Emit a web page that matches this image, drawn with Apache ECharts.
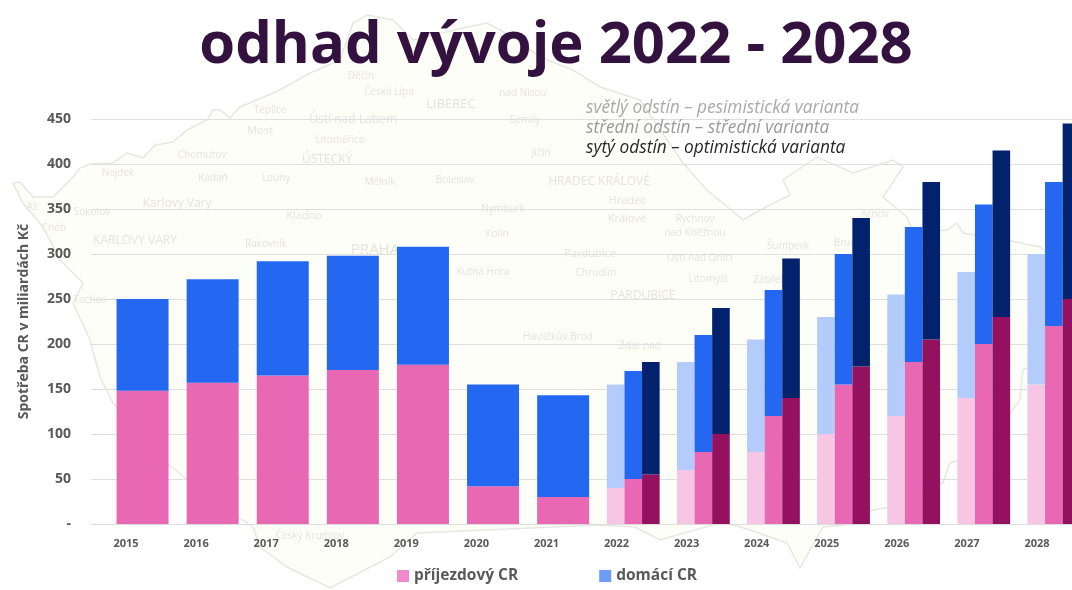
<!DOCTYPE html>
<html>
<head>
<meta charset="utf-8">
<title>odhad vývoje 2022 - 2028</title>
<script src="https://cdn.jsdelivr.net/npm/echarts@6/dist/echarts.min.js"></script>
<style>
  html, body { margin: 0; padding: 0; background: #fff; }
  #chart { width: 1072px; height: 590px; }
</style>
</head>
<body>
<div id="chart"></div>
<script>
const years = ['2015', '2016', '2017', '2018', '2019', '2020', '2021', '2022', '2023', '2024', '2025', '2026', '2027', '2028'];

// 2015-2021 actuals
const inboundActual = [148, 157, 165, 171, 177, 42, 30, null, null, null, null, null, null, null];
const domesticActual = [102, 115, 127, 127, 131, 113, 113, null, null, null, null, null, null, null];

// 2022-2028 scenarios
const inboundLow = [null, null, null, null, null, null, null, 40, 60, 80, 100, 120, 140, 155];
const domesticLow = [null, null, null, null, null, null, null, 115, 120, 125, 130, 135, 140, 145];
const inboundMid = [null, null, null, null, null, null, null, 50, 80, 120, 155, 180, 200, 220];
const domesticMid = [null, null, null, null, null, null, null, 120, 130, 140, 145, 150, 155, 160];
const inboundHigh = [null, null, null, null, null, null, null, 55, 100, 140, 175, 205, 230, 250];
const domesticHigh = [null, null, null, null, null, null, null, 125, 140, 155, 165, 175, 185, 195];

// backdrop: faded map of the country behind the plot
const mapOutline = [
  [13, 183], [20, 182], [33, 197], [53, 197], [73, 177], [80, 168], [90, 164], [113, 163], [127, 153], [143, 158],
  [155, 145], [173, 142], [187, 130], [207, 120], [213, 110], [220, 110], [230, 118], [240, 107], [280, 90], [310, 73],
  [340, 60], [353, 23], [367, 15], [393, 20], [413, 40], [467, 27], [487, 23], [513, 37], [540, 57], [573, 70],
  [600, 87], [640, 100], [683, 163], [707, 190], [743, 220], [760, 210], [790, 195], [783, 180], [817, 157], [853, 173],
  [893, 160], [903, 167], [883, 197], [907, 217], [913, 233], [947, 230], [957, 223], [963, 233], [1007, 240], [1040, 247],
  [1072, 270], [1072, 345], [1023, 370], [1020, 400], [990, 440], [967, 457], [950, 463], [943, 483], [905, 505], [873, 510],
  [845, 525], [823, 527], [800, 568], [787, 543], [750, 530], [723, 522], [660, 540], [635, 527], [600, 525], [417, 533],
  [390, 557], [330, 588], [287, 567], [260, 547], [253, 527], [217, 503], [150, 450], [113, 403], [100, 377], [90, 340],
  [73, 303], [83, 283], [60, 260], [43, 227], [23, 203]
];
const mapLabels = [
  ['Děčín', 361, 76, 10], ['Česká Lípa', 389, 92, 10], ['LIBEREC', 451, 104, 13], ['nad Nisou', 523, 93, 10], ['Semily', 525, 120, 10],
  ['Teplice', 270, 110, 10], ['Ústí nad Labem', 353, 120, 12], ['Most', 260, 131, 11], ['Litoměřice', 340, 140, 10], ['Chomutov', 202, 155, 10],
  ['ÚSTECKÝ', 327, 160, 12], ['Mělník', 380, 182, 10], ['Boleslav', 455, 180, 10], ['Jičín', 541, 153, 10], ['Kadaň', 213, 178, 10],
  ['Louny', 276, 178, 10], ['Nejdek', 118, 173, 10], ['Karlovy Vary', 177, 204, 12], ['KARLOVY VARY', 135, 241, 12], ['Sokolov', 92, 212, 10],
  ['Cheb', 54, 228, 10], ['Aš', 32, 207, 10], ['Rakovník', 266, 244, 10], ['Kladno', 304, 216, 11], ['PRAHA', 375, 250, 15],
  ['HRADEC KRÁLOVÉ', 599, 182, 12], ['Hradec', 627, 201, 11], ['Králové', 627, 219, 11], ['Nymburk', 503, 209, 10], ['Kolín', 497, 234, 10],
  ['Kutná Hora', 483, 272, 10], ['Pardubice', 590, 254, 11], ['Chrudim', 596, 273, 10], ['PARDUBICE', 643, 296, 12], ['Havlíčkův Brod', 558, 337, 10],
  ['Žďár nad', 640, 346, 10], ['Rychnov', 695, 219, 10], ['nad Kněžnou', 695, 233, 10], ['Šumperk', 788, 246, 10], ['Bruntál', 851, 243, 10],
  ['Krnov', 875, 214, 10], ['Ústí nad Orlicí', 700, 258, 10], ['Litomyšl', 708, 279, 10], ['Zábřeh', 770, 280, 10], ['Tachov', 90, 300, 10],
  ['Český Krumlov', 310, 536, 10]
];
const variantNotes = [
  ['světlý odstín – pesimistická varianta', 108, '#a9a9a9'],
  ['střední odstín – střední varianta', 128, '#9a9a9a'],
  ['sytý odstín – optimistická varianta', 148, '#262626']
];

const axisText = '#595959';
const fontName = '"Open Sans", sans-serif';

function actualBar(name, values, color) {
  return {
    name: name, type: 'bar', stack: 'actual', barWidth: 52,
    xAxisIndex: 1, yAxisIndex: 1, itemStyle: { color: color }, data: values
  };
}

function forecastBar(name, stack, values, color) {
  return {
    name: name, type: 'bar', stack: stack, barWidth: 17.6, barGap: 0,
    xAxisIndex: 2, yAxisIndex: 1, itemStyle: { color: color }, data: values
  };
}

const graphics = [{
  type: 'polygon', z: -10, silent: true,
  shape: { points: mapOutline },
  style: { fill: '#fefef8', stroke: '#e7e7e2', lineWidth: 1.5 }
}];
mapLabels.forEach(function (l) {
  graphics.push({
    type: 'text', z: -9, silent: true, x: l[1], y: l[2],
    style: { text: l[0], fill: '#e4e4dc', font: l[3] + 'px ' + fontName, align: 'center', verticalAlign: 'middle' }
  });
});
variantNotes.forEach(function (n) {
  graphics.push({
    type: 'text', z: 20, silent: true, x: 586, y: n[1],
    style: { text: n[0], fill: n[2], font: 'italic 17.3px ' + fontName, verticalAlign: 'middle' }
  });
});

const chart = echarts.init(document.getElementById('chart'));
chart.setOption({
  animation: false,
  backgroundColor: '#fff',
  textStyle: { fontFamily: fontName },
  title: {
    text: 'odhad vývoje 2022 - 2028',
    left: 551, top: 12, textAlign: 'center',
    textStyle: { fontFamily: fontName, fontSize: 58, fontWeight: 'bold', color: '#33123f' }
  },
  legend: {
    left: 392, top: 563, itemWidth: 12, itemHeight: 12, itemGap: 81,
    textStyle: { fontFamily: fontName, fontSize: 15.5, fontWeight: 'bold', color: '#595959' },
    data: [
      { name: 'příjezdový CR', icon: 'rect', itemStyle: { color: '#ee8ccb' } },
      { name: 'domácí CR', icon: 'rect', itemStyle: { color: '#6a9cf8' } }
    ]
  },
  grid: [
    { left: 91, top: 119, width: 981, height: 405, outerBoundsMode: 'none' },
    { left: 107.5, top: 119, width: 981.4, height: 405, outerBoundsMode: 'none' }
  ],
  xAxis: [
    {
      type: 'category', gridIndex: 0, data: years,
      axisLine: { lineStyle: { color: '#dddddd' } },
      axisTick: { show: false },
      axisLabel: { color: axisText, fontFamily: fontName, fontSize: 11, fontWeight: 'bold', margin: 14 }
    },
    { type: 'category', gridIndex: 1, data: years, show: false },
    { type: 'category', gridIndex: 1, data: years, show: false }
  ],
  yAxis: [
    {
      type: 'value', gridIndex: 0, min: 0, max: 450, interval: 50,
      axisLine: { show: false },
      axisTick: { show: false },
      splitLine: { lineStyle: { color: '#dfdfdf' } },
      axisLabel: {
        color: axisText, fontFamily: fontName, fontSize: 14, fontWeight: 'bold', margin: 20,
        formatter: function (v) { return v === 0 ? '-' : v; }
      },
      name: 'Spotřeba CR v miliardách Kč',
      nameLocation: 'middle', nameGap: 60,
      nameTextStyle: { color: axisText, fontFamily: fontName, fontSize: 14, fontWeight: 'bold' }
    },
    { type: 'value', gridIndex: 1, min: 0, max: 450, interval: 50, show: false }
  ],
  series: [
    actualBar('příjezdový CR', inboundActual, '#e868b4'),
    actualBar('domácí CR', domesticActual, '#2468f2'),
    forecastBar('příjezdový CR pesimistická', 'low', inboundLow, '#f7c6e4'),
    forecastBar('domácí CR pesimistická', 'low', domesticLow, '#b4ccfb'),
    forecastBar('příjezdový CR střední', 'mid', inboundMid, '#e868b4'),
    forecastBar('domácí CR střední', 'mid', domesticMid, '#2468f2'),
    forecastBar('příjezdový CR optimistická', 'high', inboundHigh, '#94115f'),
    forecastBar('domácí CR optimistická', 'high', domesticHigh, '#03226d')
  ],
  graphic: graphics
});
</script>
</body>
</html>
